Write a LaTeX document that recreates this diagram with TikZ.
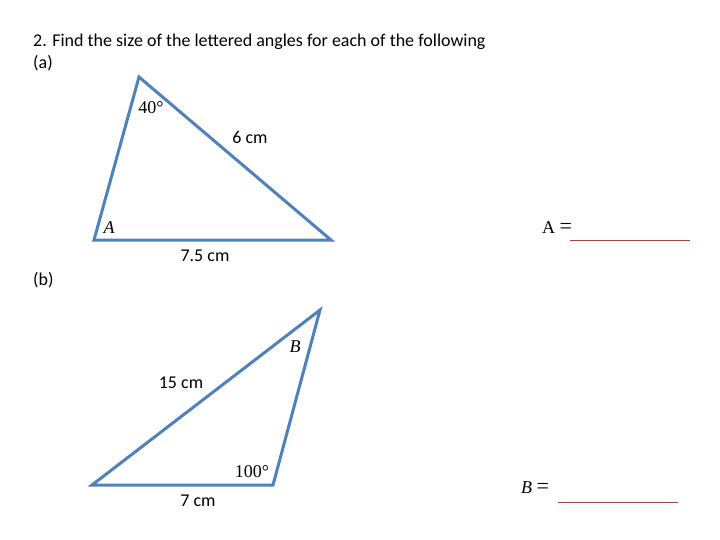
\documentclass[tikz,border=0pt]{standalone}
\usepackage{fontspec}
\setmainfont{Carlito}
\newfontfamily\mathlike{Liberation Serif}
\usetikzlibrary{positioning}

\definecolor{edgeblue}{RGB}{79,129,189}
\definecolor{ansred}{RGB}{160,72,70}

\tikzset{
  side/.style={draw=edgeblue,line width=3pt,line join=miter},
  lbl/.style={font=\fontsize{18}{22}\selectfont,inner sep=0pt},
  mlbl/.style={font=\fontsize{18}{22}\selectfont\mathlike,inner sep=0pt},
  ans/.style={draw=ansred,line width=0.8pt},
}

\begin{document}
\begin{tikzpicture}[x=1pt,y=-1pt]
\useasboundingbox (0,0) rectangle (720,540);

% heading
\node (head) at (33,42) [anchor=west,lbl] {2. Find the size of the lettered angles for each of the following};
\node (pa) at (33,63) [anchor=west,lbl] {(a)};
\node (pb) at (33,280) [anchor=west,lbl] {(b)};

% triangle (a)
\coordinate (a0) at (139,77);
\coordinate (a1) at (94,240);
\coordinate (a2) at (331,240);
\draw[side] (a0) -- (a1) -- (a2) -- cycle;

\node (ang40) at (151,108) [mlbl] {40°};
\node (len6) at (250,137) [lbl] {6 cm};
\node (angA) at (109,228) [mlbl] {\itshape A};
\node (len75) at (205,256) [lbl] {7.5 cm};

\node (eqA) at (557,228) [mlbl] {A {\fontsize{22}{22}\selectfont=}};
\coordinate (ua0) at (570,240);
\coordinate (ua1) at (690,240);
\draw[ans] (ua0) -- (ua1);

% triangle (b)
\coordinate (b0) at (320,310);
\coordinate (b1) at (92,485);
\coordinate (b2) at (273,485);
\draw[side] (b0) -- (b1) -- (b2) -- cycle;

\node (angB) at (295,347) [mlbl] {\itshape B};
\node (len15) at (181,383) [lbl] {15 cm};
\node (ang100) at (252,472) [mlbl] {100°};
\node (len7) at (198,501) [lbl] {7 cm};

\node (eqB) at (535,488) [mlbl] {\itshape B \upshape{\fontsize{22}{22}\selectfont=}};
\coordinate (ub0) at (558,502);
\coordinate (ub1) at (678,502);
\draw[ans] (ub0) -- (ub1);
\end{tikzpicture}
\end{document}
